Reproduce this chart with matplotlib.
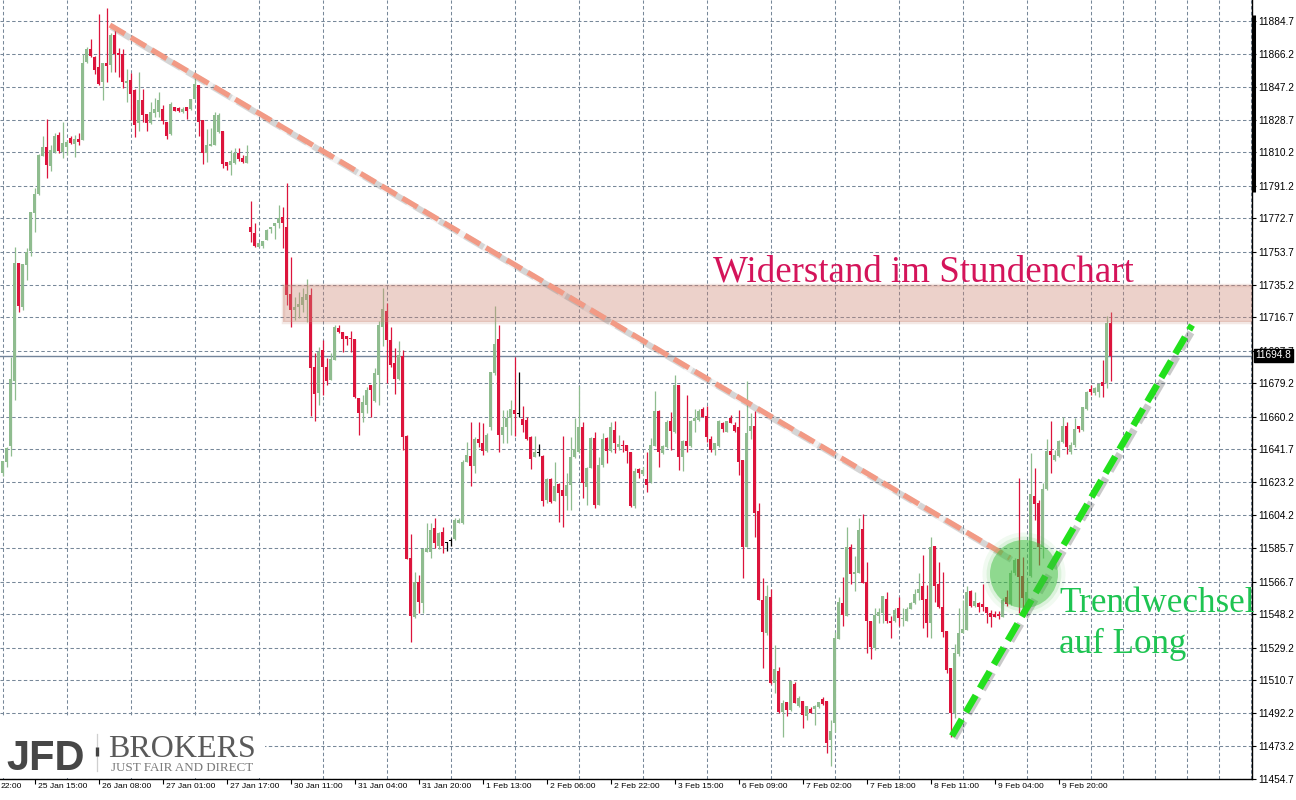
import matplotlib
matplotlib.use('Agg')
import matplotlib.pyplot as plt
from matplotlib import font_manager as fm
from matplotlib.patches import Rectangle, Ellipse
import numpy as np

# ---------------- data (hourly candles, DAX-like index) ----------------
opens = [11628.4,11634.7,11643.6,11680.6,11747.2,11722.6,11746.3,11754.4,11775.9,11786.4,
11808.3,11813.2,11802.6,11810.5,11820.0,11810.5,11813.4,11818.5,11814.7,11817.7,
11817.2,11861.3,11868.8,11864.4,11858.4,11850.3,11861.0,11859.7,11876.7,11866.7,
11866.0,11849.7,11851.2,11845.5,11827.0,11839.9,11831.9,11826.7,11832.7,11833.2,
11834.8,11827.2,11820.6,11835.9,11835.3,11833.2,11836.1,11834.8,11840.4,11848.4,
11828.5,11809.6,11813.8,11814.3,11821.9,11822.5,11804.9,11803.0,11804.3,11809.6,
11806.8,11804.3,11768.0,11764.6,11756.6,11757.0,11760.4,11766.5,11768.6,11769.9,
11773.7,11768.0,11729.8,11720.7,11722.3,11723.6,11726.4,11729.2,11688.6,11673.5,
11698.0,11688.2,11681.0,11692.4,11710.4,11708.4,11706.2,11705.0,11704.1,11670.6,
11662.1,11666.8,11678.2,11669.3,11683.9,11711.3,11720.2,11703.7,11690.5,11681.6,
11694.6,11649.4,11580.0,11546.7,11566.6,11554.7,11583.6,11583.6,11596.9,11586.9,
11594.6,11588.4,11589.9,11590.7,11600.1,11599.7,11634.7,11637.9,11632.2,11647.6,
11645.1,11640.9,11654.2,11685.2,11704.3,11649.8,11654.5,11659.3,11664.0,11661.7,
11658.7,11658.3,11648.5,11637.5,11639.4,11637.9,11612.9,11624.7,11612.6,11621.9,
11618.6,11615.2,11621.5,11637.2,11640.3,11654.5,11620.5,11631.3,11648.0,11610.1,
11632.8,11648.0,11640.9,11652.7,11643.2,11644.2,11644.2,11640.3,11609.5,11630.5,
11627.7,11624.7,11623.3,11643.6,11663.6,11639.4,11643.2,11658.0,11651.7,11678.2,
11637.5,11646.4,11643.6,11658.0,11658.3,11664.4,11660.6,11647.6,11641.3,11643.6,
11656.8,11651.7,11659.6,11655.5,11654.5,11635.6,11586.5,11652.3,11654.9,11606.5,
11556.2,11537.3,11557.8,11509.3,11515.9,11492.9,11498.2,11493.8,11508.6,11496.1,
11498.9,11490.6,11494.4,11494.2,11495.3,11499.9,11498.9,11476.8,11486.3,11533.9,
11554.7,11547.3,11586.5,11571.0,11571.7,11596.3,11566.6,11544.5,11528.8,11547.3,
11548.7,11556.6,11544.5,11544.5,11551.9,11545.3,11544.5,11551.1,11554.3,11560.4,
11564.2,11556.6,11543.0,11586.9,11565.3,11552.4,11538.6,11517.8,11491.9,11525.6,
11537.3,11539.2,11561.3,11552.8,11554.3,11554.0,11552.1,11548.7,11548.3,11548.3,
11546.4,11558.1,11554.0,11571.4,11579.3,11569.8,11553.4,11569.8,11615.2,11611.4,
11586.1,11619.0,11640.9,11635.6,11637.9,11646.0,11654.9,11640.3,11644.2,11654.9,
11652.7,11664.4,11675.8,11673.5,11674.4,11680.1,11679.5,11713.5]

highs = [11635.1,11643.2,11694.2,11756.6,11747.4,11746.8,11755.7,11776.3,11789.8,11809.2,
11819.4,11829.1,11814.3,11821.3,11821.7,11827.4,11817.2,11819.4,11820.0,11821.0,
11866.0,11870.1,11874.3,11865.0,11888.7,11860.7,11892.2,11878.0,11880.5,11869.2,
11868.6,11857.3,11855.4,11845.9,11855.9,11846.1,11831.9,11838.9,11841.2,11844.6,
11837.2,11827.6,11838.7,11835.9,11835.9,11836.1,11836.1,11840.4,11855.0,11848.4,
11828.5,11823.4,11823.8,11833.2,11832.7,11822.5,11804.9,11811.5,11812.5,11812.5,
11808.7,11814.3,11782.6,11770.3,11758.9,11760.1,11766.5,11768.0,11770.3,11780.3,
11779.3,11792.6,11751.0,11728.3,11731.1,11733.0,11738.3,11733.0,11696.2,11699.6,
11703.7,11693.3,11696.2,11712.2,11712.2,11708.4,11706.2,11708.8,11704.1,11670.6,
11672.5,11677.2,11678.2,11687.7,11714.5,11733.0,11724.5,11711.3,11699.0,11703.1,
11698.0,11649.8,11593.5,11572.3,11570.4,11585.5,11599.7,11599.7,11602.6,11595.0,
11597.8,11589.3,11591.2,11602.6,11602.6,11635.6,11646.0,11657.4,11648.9,11657.4,
11656.5,11650.8,11685.7,11723.2,11712.2,11664.0,11664.0,11669.7,11694.2,11685.7,
11666.3,11660.2,11649.3,11649.3,11644.7,11638.5,11625.3,11625.3,11634.3,11622.4,
11649.3,11628.1,11648.9,11659.3,11677.6,11657.4,11631.8,11648.9,11651.7,11637.5,
11650.8,11648.9,11657.4,11657.9,11649.8,11647.0,11644.2,11640.3,11630.9,11630.9,
11631.8,11640.3,11648.0,11674.8,11664.0,11644.2,11658.3,11663.0,11683.9,11678.2,
11647.0,11672.5,11658.3,11664.4,11664.4,11665.5,11666.3,11649.3,11645.5,11658.3,
11657.4,11657.8,11661.2,11657.4,11664.0,11635.6,11680.5,11662.1,11663.6,11611.1,
11568.5,11564.7,11562.3,11530.7,11518.4,11499.5,11498.2,11510.3,11509.9,11501.8,
11498.9,11496.1,11495.3,11496.6,11498.5,11501.4,11498.9,11488.1,11538.2,11558.1,
11569.4,11597.8,11588.0,11581.2,11602.9,11605.0,11577.9,11544.5,11551.5,11551.5,
11558.5,11560.9,11547.1,11551.5,11558.1,11551.5,11552.1,11555.3,11562.3,11571.4,
11581.7,11564.7,11591.8,11586.9,11577.9,11572.3,11538.6,11517.8,11531.3,11551.5,
11556.2,11564.2,11561.9,11560.9,11555.3,11565.3,11552.1,11550.5,11550.1,11550.0,
11557.2,11561.9,11573.2,11579.9,11625.3,11580.8,11567.6,11639.4,11630.9,11612.9,
11622.8,11647.4,11657.8,11641.3,11647.0,11660.2,11657.4,11646.0,11659.3,11654.9,
11665.5,11675.0,11678.2,11676.9,11679.5,11692.4,11717.3,11719.8]

lows = [11626.6,11631.8,11638.1,11669.7,11719.8,11720.7,11737.8,11751.5,11764.8,11786.0,
11808.3,11795.8,11799.8,11810.0,11809.6,11807.1,11808.7,11814.9,11807.7,11814.3,
11817.2,11860.7,11864.1,11854.6,11848.4,11839.9,11850.3,11855.9,11855.9,11853.1,
11846.5,11838.9,11828.5,11819.0,11822.5,11827.6,11822.5,11826.3,11830.1,11830.4,
11826.3,11817.7,11820.0,11833.6,11833.1,11832.7,11829.1,11834.2,11840.4,11819.4,
11803.6,11804.9,11813.8,11814.3,11821.0,11801.1,11800.2,11797.3,11803.6,11805.4,
11804.3,11804.0,11759.5,11756.6,11756.3,11756.1,11760.4,11764.6,11760.8,11767.1,
11755.7,11723.6,11711.3,11715.1,11716.0,11719.8,11714.1,11660.6,11657.9,11666.8,
11672.5,11678.2,11681.0,11692.4,11707.5,11697.1,11700.9,11697.1,11671.0,11649.8,
11657.4,11662.1,11660.2,11668.7,11666.8,11700.3,11679.5,11688.6,11673.1,11681.2,
11641.3,11579.3,11532.6,11545.8,11548.7,11549.0,11583.6,11579.9,11585.5,11585.0,
11583.1,11584.2,11586.9,11590.3,11599.7,11599.3,11634.7,11620.9,11628.1,11643.2,
11638.5,11640.3,11652.7,11683.9,11640.3,11645.1,11645.1,11649.8,11649.3,11660.2,
11651.7,11647.0,11630.5,11637.5,11637.9,11609.7,11611.1,11611.1,11612.6,11600.6,
11597.5,11607.3,11607.3,11636.6,11639.4,11614.3,11610.1,11630.9,11608.2,11610.1,
11631.8,11633.8,11640.3,11639.8,11641.3,11640.3,11634.1,11609.1,11608.2,11625.3,
11627.1,11617.7,11622.4,11643.6,11631.5,11638.9,11642.3,11641.3,11650.8,11630.0,
11629.6,11640.3,11643.2,11651.7,11658.0,11659.9,11646.0,11640.3,11638.5,11643.2,
11651.7,11651.7,11656.5,11651.7,11627.1,11568.5,11586.5,11647.6,11592.1,11556.2,
11517.5,11536.4,11508.6,11503.6,11491.9,11478.7,11490.6,11493.4,11497.7,11495.7,
11483.4,11488.1,11491.9,11485.3,11494.8,11496.6,11469.6,11462.0,11481.5,11533.9,
11541.5,11547.3,11565.3,11561.5,11571.7,11565.7,11526.3,11522.6,11527.9,11543.0,
11543.0,11543.0,11534.5,11543.9,11541.5,11541.5,11544.5,11550.9,11553.9,11556.2,
11540.2,11535.4,11534.5,11555.3,11551.5,11535.4,11515.0,11478.7,11489.1,11524.5,
11537.3,11539.2,11552.1,11552.4,11549.6,11550.1,11543.3,11541.1,11546.4,11545.3,
11546.4,11552.8,11553.4,11570.4,11548.7,11548.7,11548.8,11569.4,11601.6,11576.1,
11579.9,11618.6,11628.4,11635.2,11637.5,11645.5,11639.0,11639.0,11643.2,11651.7,
11652.3,11664.0,11672.5,11672.5,11671.2,11671.2,11676.3,11680.6]

closes = [11635.1,11642.3,11681.6,11747.2,11723.0,11746.8,11753.8,11776.3,11786.5,11808.7,
11813.2,11803.2,11811.5,11819.4,11811.1,11815.5,11816.2,11815.6,11817.6,11816.0,
11860.7,11868.6,11864.8,11856.9,11848.8,11860.7,11859.3,11876.7,11866.0,11865.4,
11850.3,11850.8,11843.3,11825.7,11839.9,11831.4,11827.0,11833.2,11834.8,11839.9,
11828.1,11819.4,11837.4,11833.6,11833.8,11834.8,11833.8,11840.4,11848.8,11827.6,
11809.6,11814.3,11814.9,11831.4,11831.4,11803.6,11802.4,11805.4,11809.6,11806.2,
11804.9,11808.1,11764.8,11757.2,11758.9,11760.1,11766.1,11768.0,11769.9,11772.8,
11770.3,11729.2,11720.7,11722.6,11724.1,11727.9,11729.8,11687.7,11673.1,11697.1,
11688.2,11680.6,11692.8,11711.3,11708.4,11704.3,11704.3,11704.1,11671.2,11662.1,
11668.7,11675.4,11675.4,11684.8,11712.2,11721.1,11703.7,11689.5,11681.6,11695.2,
11648.9,11579.7,11547.1,11566.6,11554.9,11585.0,11585.5,11595.9,11588.4,11594.1,
11586.9,11588.4,11589.9,11601.6,11601.6,11634.7,11638.5,11632.4,11647.6,11645.1,
11640.9,11649.8,11685.7,11701.4,11649.8,11654.5,11659.3,11664.4,11661.7,11661.7,
11655.5,11647.4,11636.0,11640.3,11639.4,11612.6,11624.7,11611.6,11620.9,11617.1,
11615.4,11621.5,11637.2,11641.9,11654.5,11622.4,11631.3,11648.0,11610.1,11632.8,
11647.4,11640.9,11654.2,11645.5,11644.7,11643.6,11640.9,11609.5,11629.6,11628.4,
11630.0,11621.5,11644.2,11663.6,11640.3,11643.6,11657.4,11652.1,11678.2,11637.5,
11646.4,11643.6,11658.0,11659.3,11663.6,11660.2,11648.9,11641.3,11645.1,11657.8,
11653.1,11657.8,11656.8,11652.1,11634.7,11586.5,11650.8,11654.9,11605.7,11556.2,
11538.2,11558.5,11509.0,11516.9,11492.9,11498.0,11493.8,11510.3,11498.0,11500.5,
11491.0,11496.1,11492.3,11496.1,11498.2,11497.2,11475.3,11482.1,11534.5,11555.3,
11547.7,11586.5,11571.0,11572.3,11595.9,11566.0,11544.5,11529.7,11547.7,11549.6,
11558.5,11544.5,11543.3,11550.5,11545.8,11546.2,11550.9,11554.7,11559.6,11562.5,
11556.2,11543.3,11586.5,11564.2,11552.4,11538.2,11516.5,11491.9,11526.0,11537.7,
11539.6,11560.9,11552.8,11555.7,11552.4,11552.4,11548.7,11546.7,11546.7,11547.1,
11556.2,11554.0,11571.4,11578.9,11569.4,11557.2,11560.9,11616.4,11610.7,11586.1,
11619.0,11640.9,11638.5,11638.5,11646.4,11654.9,11643.2,11644.2,11653.1,11653.1,
11665.5,11674.4,11674.4,11676.3,11678.8,11677.8,11713.5,11694.8]

# the first label ("24 Jan 22:00") is only partly visible in the original: "22:00"
x_tick_pos = [-8, 8, 24, 40, 56, 72, 88, 104, 120, 136, 152, 168, 184, 200, 216, 232, 248, 264]
x_tick_labels = ['22:00', '25 Jan 15:00', '26 Jan 08:00', '27 Jan 01:00', '27 Jan 17:00',
                 '30 Jan 11:00', '31 Jan 04:00', '31 Jan 20:00', '1 Feb 13:00', '2 Feb 06:00',
                 '2 Feb 22:00', '3 Feb 15:00', '6 Feb 09:00', '7 Feb 02:00', '7 Feb 18:00',
                 '8 Feb 11:00', '9 Feb 04:00', '9 Feb 20:00']
y_tick_values = [11884.7, 11866.2, 11847.2, 11828.7, 11810.2, 11791.2, 11772.7, 11753.7,
                 11735.2, 11716.7, 11697.7, 11679.2, 11660.2, 11641.7, 11623.2, 11604.2,
                 11585.7, 11566.7, 11548.2, 11529.2, 11510.7, 11492.2, 11473.2, 11454.7]
current_price = 11694.8

# annotations (in candle index / price units)
resist_low, resist_high, resist_start = 11713.9, 11734.9, 70
down_x, down_y = [26.8, 251.8], [11882.4, 11580.1]
up_x, up_y = [237.3, 297.3], [11479.1, 11712.2]
circle_x, circle_y, circle_w, circle_h = 255.3, 11571.0, 17.0, 38.6

# ---------------- styling ----------------
BULL = '#8FBC8F'
BEAR = '#DC143C'
GRID = '#778899'

avail = {f.name for f in fm.fontManager.ttflist}
if 'Liberation Sans Narrow' in avail:
    XFONT, XSIZE = 'Liberation Sans Narrow', 7.0
else:
    XFONT, XSIZE = 'Liberation Sans', 6.1
YFONT = 'Liberation Sans'
SERIF = 'Liberation Serif'

fig = plt.figure(figsize=(12.96, 8), dpi=100)
fig.patch.set_facecolor('white')
ax = fig.add_axes([0, 21 / 800, 1252 / 1296, 779 / 800])
XMAX = 312.3
ax.set_xlim(-0.675, XMAX)
ax.set_ylim(11454.7, 11896.6)

for s in ['left', 'top']:
    ax.spines[s].set_visible(False)
for s in ['right', 'bottom']:
    ax.spines[s].set_color('black')
    ax.spines[s].set_linewidth(1.0)

# grid
major_x = [p for p in x_tick_pos if p >= 0]
ax.set_xticks(major_x, labels=[''] * len(major_x))
ax.set_xticks(np.arange(0, XMAX, 8), minor=True)
ax.tick_params(axis='x', which='major', length=3.6, width=0.8, direction='out', color='black')
ax.tick_params(axis='x', which='minor', length=0)
ax.grid(axis='x', which='minor', color=GRID, lw=0.75, linestyle=(0, (3.3, 2.3)))
ax.grid(axis='y', which='major', color=GRID, lw=0.75, linestyle=(0, (3.3, 2.3)))
ax.set_axisbelow(True)

ax.yaxis.tick_right()
ax.set_yticks(y_tick_values, labels=[f'{v:.1f}' for v in y_tick_values])
ax.tick_params(axis='y', length=3, width=0.8, pad=1.5, labelsize=7.3, color='black')
for lab in ax.get_yticklabels():
    lab.set_fontfamily(YFONT)

for p, t in zip(x_tick_pos, x_tick_labels):
    xp = p + 0.9 if p >= 0 else -0.5
    ax.text(xp, -4.5 / 779, t, transform=ax.get_xaxis_transform(), ha='left', va='top',
            fontsize=XSIZE, fontfamily=XFONT, color='black', clip_on=False)

# current price line
ax.axhline(current_price, color='#72849a', lw=1.0, zorder=2.5)

# candles
o = np.array(opens); h = np.array(highs); l = np.array(lows); c = np.array(closes)
x = np.arange(len(o))
cols = np.where(c > o, BULL, np.where(c < o, BEAR, 'black'))
ax.vlines(x, l, h, colors=cols, lw=0.9, zorder=3)
ax.bar(x, np.maximum(np.abs(c - o), 0.6), bottom=np.minimum(o, c), width=0.75,
       color=cols, linewidth=0, zorder=4)

# resistance zone (soft edge + fill)
ax.add_patch(Rectangle((resist_start, resist_low), XMAX - resist_start + 1, resist_high - resist_low,
                       facecolor='none', edgecolor='#c08070', alpha=0.18, linewidth=2.5, zorder=5))
ax.add_patch(Rectangle((resist_start, resist_low), XMAX - resist_start + 1, resist_high - resist_low,
                       facecolor=(205 / 255, 135 / 255, 117 / 255), alpha=0.38, linewidth=0, zorder=5))

# trend lines with soft shadow
ax.plot(np.array(down_x) + 0.35, np.array(down_y) - 1.0, color='#808080', lw=4.8, alpha=0.10,
        solid_capstyle='butt', zorder=6)
ax.plot(np.array(down_x) + 0.35, np.array(down_y) - 1.0, color='#707070', lw=4.4, alpha=0.22,
        dashes=(3.6, 1.2), zorder=6)
ax.plot(down_x, down_y, color='#f29a85', lw=3.8, dashes=(3.3, 1.3), zorder=7)
ax.plot(np.array(up_x) + 0.5, np.array(up_y) - 1.2, color='#404040', lw=5.4, alpha=0.28,
        dashes=(2.65, 1.1), zorder=6)
ax.plot(up_x, up_y, color='#22e01c', lw=4.8, dashes=(2.9, 1.25), zorder=7)

# green circle
for k, a in [(1.22, 0.07), (1.1, 0.12)]:
    ax.add_patch(Ellipse((circle_x, circle_y), circle_w * k, circle_h * k,
                         facecolor=(60 / 255, 190 / 255, 60 / 255), alpha=a, linewidth=0, zorder=8))
ax.add_patch(Ellipse((circle_x, circle_y), circle_w, circle_h,
                     facecolor=(60 / 255, 190 / 255, 60 / 255), alpha=0.48, linewidth=0, zorder=8))

# ---------------- overlay in pixel coordinates ----------------
ov = fig.add_axes([0, 0, 1, 1], zorder=10)
ov.set_xlim(0, 1296)
ov.set_ylim(800, 0)
ov.axis('off')
ov.patch.set_alpha(0)

ov.text(713, 281, 'Widerstand im Stundenchart', fontsize=26.6, fontfamily=SERIF,
        color='#d4145a', ha='left', va='baseline')
ov.text(1059, 612, 'Trendwechsel', fontsize=25.2, fontfamily=SERIF, color='#1ec452',
        ha='left', va='baseline')
ov.text(1059, 653, 'auf Long', fontsize=25.2, fontfamily=SERIF, color='#1ec452',
        ha='left', va='baseline')

# price box
ov.text(1255.5, 355.5, f'{current_price:.1f}', color='white', fontsize=7.3, fontfamily=YFONT,
        ha='left', va='center',
        bbox=dict(boxstyle='square,pad=0.18', facecolor='black', edgecolor='black'))
# thick black scale marker
ov.plot([1253.8, 1253.8], [15, 192], color='black', lw=2.2, solid_capstyle='butt')

# logo
ov.add_patch(Rectangle((0, 716), 265, 61.5, facecolor='white', edgecolor='none'))
ov.text(6, 770.5, 'JFD', fontsize=30, fontweight='bold', fontfamily='Liberation Sans',
        color='#474747', ha='left', va='baseline')
ov.plot([97, 97], [734, 771], color='#cfcfcf', lw=0.9)
ov.plot([97, 97], [747, 756], color='#444444', lw=2.4, solid_capstyle='butt')
ov.text(108, 757, 'BROKERS', fontsize=23, fontfamily=SERIF, color='#5a5a5a',
        ha='left', va='baseline')
ov.text(111, 771, 'JUST FAIR AND DIRECT', fontsize=9.4, fontfamily=SERIF, color='#7a7a7a',
        ha='left', va='baseline')

fig.savefig('out.png', dpi=100, facecolor='white')
